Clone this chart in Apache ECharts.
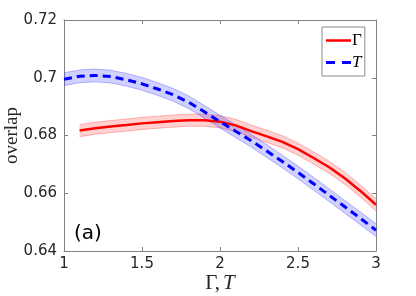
<!DOCTYPE html>
<html><head><meta charset="utf-8">
<script src="https://cdn.jsdelivr.net/npm/echarts@6/dist/echarts.min.js"></script>
<style>html,body{margin:0;padding:0;background:#fff}#c{width:416px;height:296px}</style>
</head><body><div id="c"></div>
<script>
// Data
const xGamma = [1.1,1.2,1.3,1.4,1.5,1.6,1.7,1.8,1.9,2.0,2.1,2.2,2.3,2.4,2.5,2.6,2.7,2.8,2.9,3.0];
const yGamma = [0.6817,0.6825,0.6831,0.6836,0.6842,0.6846,0.6850,0.6853,0.6853,0.6848,0.6835,0.6815,0.6797,0.6778,0.6753,0.6722,0.6690,0.6652,0.6608,0.6560];
const bandGamma = 0.0021;
const xT = [1.0,1.1,1.2,1.3,1.4,1.5,1.6,1.7,1.8,1.9,2.0,2.1,2.2,2.3,2.4,2.5,2.6,2.7,2.8,2.9,3.0];
const yT = [0.6995,0.7005,0.7008,0.7004,0.6993,0.6979,0.6961,0.6941,0.6915,0.6882,0.6848,0.6815,0.6782,0.6746,0.6710,0.6672,0.6633,0.6593,0.6553,0.6513,0.6472];
const bandT = 0.0022;
const xTicks = [1, 1.5, 2, 2.5, 3];
const yTicks = [0.64, 0.66, 0.68, 0.70, 0.72];

const bandData = (xs, ys, b) => xs.map((x, i) => [x, ys[i] - b, ys[i] + b]);
const pts = (xs, ys) => xs.map((x, i) => [x, ys[i]]);

function bandSeries(xs, ys, b, fill, edge) {
  const d = bandData(xs, ys, b);
  return {
    type: 'custom', silent: true, data: d, encode: {x: 0, y: [1, 2]},
    renderItem: (params, api) => {
      if (params.dataIndex !== 0) return null;
      const up = d.map(p => api.coord([p[0], p[2]]));
      const dn = d.map(p => api.coord([p[0], p[1]])).reverse();
      return {type: 'group', children: [
        {type: 'polygon', shape: {points: up.concat(dn)}, style: {fill: fill, stroke: null}},
        {type: 'polyline', shape: {points: up}, style: {fill: null, stroke: edge, lineWidth: 1}},
        {type: 'polyline', shape: {points: dn}, style: {fill: null, stroke: edge, lineWidth: 1}}
      ]};
    }
  };
}

const axisCol = '#808080';
const txtCol = '#262626';
const chart = echarts.init(document.getElementById('c'));
chart.setOption({
  animation: false,
  grid: {left: 64, right: 40, top: 20, bottom: 45, outerBoundsMode: 'none', containLabel: false},
  title: {text: '(a)', left: 69, top: 219, textStyle: {fontFamily: 'DejaVu Sans', fontSize: 20, fontWeight: 'normal', color: '#000'}},
  legend: {
    data: [{name: 'Γ', icon: 'path://M0,0H25V2.5H0Z'}, {name: 'T', icon: 'path://M0,0H9V3H0Z M16,0H25V3H16Z'}],
    orient: 'vertical', left: 322, top: 27, symbolKeepAspect: true,
    padding: [5, 3, 5, 4], itemWidth: 25, itemHeight: 15, itemGap: 5,
    borderColor: '#8a8a8a', borderWidth: 1, backgroundColor: '#fff',
    formatter: n => n === 'Γ' ? '{n|Γ}' : '{i|T}',
    textStyle: {padding: [0, 0, 0, -4], rich: {
      n: {fontFamily: 'Liberation Serif', fontSize: 17, color: '#000'},
      i: {fontFamily: 'Liberation Serif', fontStyle: 'italic', fontSize: 17, color: '#000'}
    }}
  },
  xAxis: [{
    type: 'value', min: xTicks[0], max: xTicks[xTicks.length - 1], interval: 0.5,
    axisLine: {lineStyle: {color: axisCol}}, axisTick: {inside: true, length: 4, lineStyle: {color: axisCol}},
    splitLine: {show: false},
    axisLabel: {fontFamily: 'DejaVu Sans', fontSize: 15, color: txtCol, margin: 6},
    name: '{n|Γ,}{i|T}', nameLocation: 'middle', nameGap: 22, nameMoveOverlap: false,
    nameTextStyle: {rich: {
      n: {fontFamily: 'Liberation Serif', fontSize: 21, color: txtCol},
      i: {fontFamily: 'Liberation Serif', fontStyle: 'italic', fontSize: 21, color: txtCol, padding: [0,0,0,3]}
    }}
  }, {
    type: 'value', position: 'top', min: 1, max: 3, interval: 0.5,
    axisLine: {show: true, lineStyle: {color: axisCol}}, axisTick: {inside: true, length: 4, lineStyle: {color: axisCol}},
    axisLabel: {show: false}, splitLine: {show: false}
  }],
  yAxis: [{
    type: 'value', min: yTicks[0], max: yTicks[yTicks.length - 1], interval: 0.02,
    axisLine: {show: true, lineStyle: {color: axisCol}}, axisTick: {show: true, inside: true, length: 4, lineStyle: {color: axisCol}},
    splitLine: {show: false},
    axisLabel: {fontFamily: 'DejaVu Sans', fontSize: 15, color: txtCol, margin: 7},
    name: 'overlap', nameLocation: 'middle', nameGap: 42, nameMoveOverlap: false,
    nameTextStyle: {fontFamily: 'Liberation Serif', fontSize: 19, color: txtCol}
  }, {
    type: 'value', position: 'right', min: 0.64, max: 0.72, interval: 0.02,
    axisLine: {show: true, lineStyle: {color: axisCol}}, axisTick: {show: true, inside: true, length: 4, lineStyle: {color: axisCol}},
    axisLabel: {show: false}, splitLine: {show: false}
  }],
  series: [
    bandSeries(xGamma, yGamma, bandGamma, 'rgba(255,0,0,0.18)', 'rgba(255,80,80,0.4)'),
    {name: 'Γ', type: 'line', data: pts(xGamma, yGamma), symbol: 'none', lineStyle: {color: '#ff0000', width: 2.5}, itemStyle: {color: '#ff0000'}},
    bandSeries(xT, yT, bandT, 'rgba(0,0,255,0.18)', 'rgba(80,80,255,0.4)'),
    {name: 'T', type: 'line', data: pts(xT, yT), symbol: 'none', lineStyle: {color: '#0000ff', width: 3, type: [8, 5]}, itemStyle: {color: '#0000ff'}}
  ]
});
</script></body></html>
